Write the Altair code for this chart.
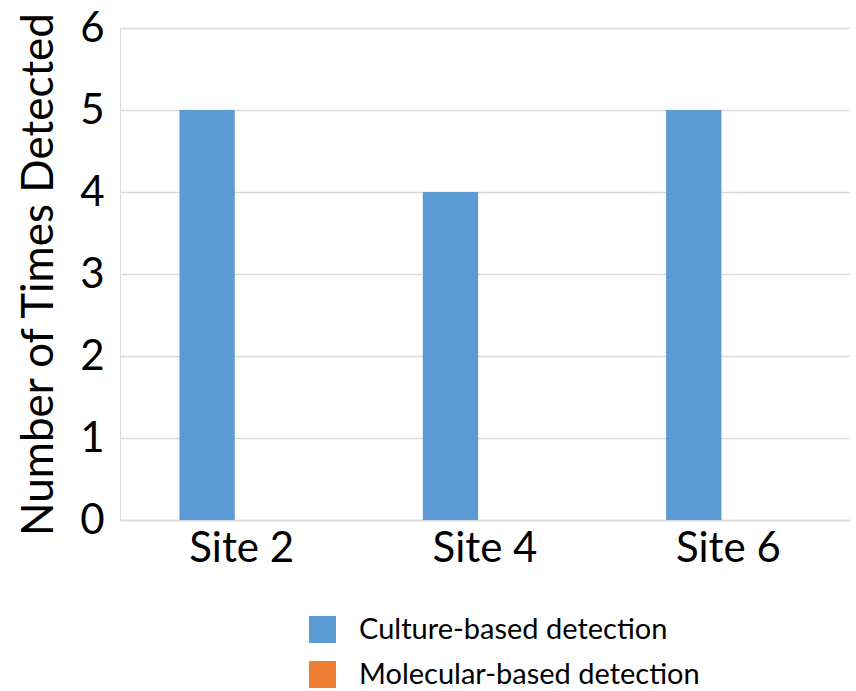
import altair as alt
import pandas as pd

sites = ["Site 2", "Site 4", "Site 6"]
culture_counts = [5, 4, 5]
molecular_counts = [0, 0, 0]
methods = ["Culture-based detection", "Molecular-based detection"]
colors = ["#5B9BD5", "#ED7D31"]

rows = []
for site, c, m in zip(sites, culture_counts, molecular_counts):
    rows.append({"site": site, "method": methods[0], "count": c})
    rows.append({"site": site, "method": methods[1], "count": m})
df = pd.DataFrame(rows)

FONT = "Lato"

chart = (
    alt.Chart(df)
    .mark_bar()
    .encode(
        x=alt.X(
            "site:N",
            sort=sites,
            title=None,
            scale=alt.Scale(paddingInner=0, paddingOuter=0),
            axis=alt.Axis(
                labelAngle=0,
                labelFontSize=42,
                labelFont=FONT,
                labelColor="#000000",
                labelPadding=8,
                ticks=False,
                domain=True,
                domainColor="#d9d9d9",
                domainWidth=1.5,
                grid=False,
            ),
        ),
        xOffset=alt.XOffset(
            "method:N",
            sort=methods,
            scale=alt.Scale(paddingInner=0.2, paddingOuter=0.86),
        ),
        y=alt.Y(
            "count:Q",
            title="Number of Times Detected",
            scale=alt.Scale(domain=[0, 6], nice=False),
            axis=alt.Axis(
                values=[0, 1, 2, 3, 4, 5, 6],
                format="d",
                labelFontSize=42,
                labelFont=FONT,
                labelColor="#000000",
                labelPadding=16,
                ticks=False,
                domain=False,
                grid=True,
                gridColor="#d9d9d9",
                gridWidth=1.5,
                titleFont=FONT,
                titleFontSize=44,
                titleFontWeight="normal",
                titleColor="#000000",
                titlePadding=18,
            ),
        ),
        color=alt.Color(
            "method:N",
            sort=methods,
            scale=alt.Scale(domain=methods, range=colors),
            legend=alt.Legend(
                title=None,
                orient="none",
                legendX=188,
                legendY=587,
                direction="vertical",
                symbolType="square",
                symbolSize=729,
                symbolStrokeWidth=0,
                symbolOpacity=1,
                labelFont=FONT,
                labelFontSize=29,
                labelColor="#000000",
                labelOffset=22,
                rowPadding=15,
                labelLimit=500,
            ),
        ),
    )
    .properties(
        width=730,
        height=492,
        padding={"left": 120, "top": 28, "right": 0, "bottom": 168},
        autosize=alt.AutoSizeParams(type="none"),
    )
    .configure_view(strokeWidth=0, stroke="transparent")
    .configure(background="#ffffff")
)

chart.save("out.html", embed_options={"renderer": "svg", "actions": False})
